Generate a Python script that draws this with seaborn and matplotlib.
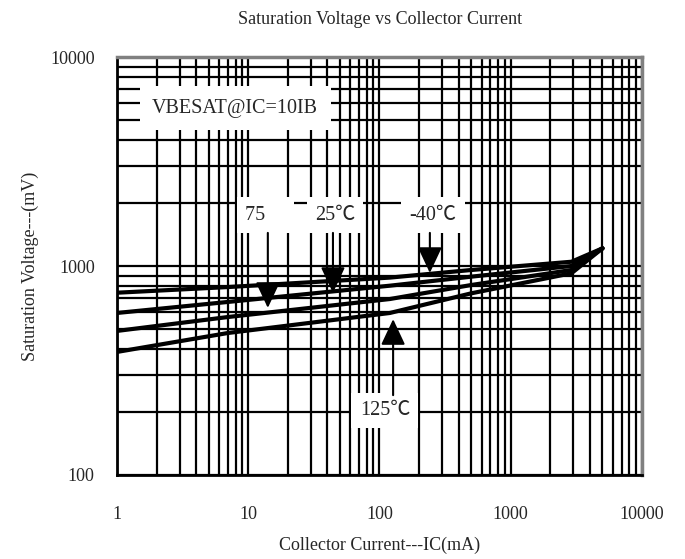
import numpy as np
import pandas as pd
import matplotlib
matplotlib.use("Agg")
import matplotlib.pyplot as plt
import seaborn as sns
from matplotlib.ticker import LogLocator, NullFormatter, FixedLocator, FixedFormatter

# ---- data ----
current_ma = [1, 7, 120, 500, 2900, 5000]
v_m40 = [745, 793, 880, 957, 1048, 1215]
v_25 = [596, 673, 805, 889, 1000, 1215]
v_75 = [489, 570, 695, 811, 957, 1215]
v_125 = [388, 478, 596, 740, 923, 1215]
series_names = ["-40℃", "25℃", "75℃", "125℃"]

x_ticks = [1, 10, 100, 1000, 10000]
x_ticklabels = ["1", "10", "100", "1000", "10000"]
y_ticks = [100, 1000, 10000]
y_ticklabels = ["100", "1000", "10000"]

title = "Saturation Voltage vs Collector Current"
xlabel = "Collector Current---IC(mA)"
ylabel = "Saturation Voltage---(mV)"
cond_text = "VBESAT@IC=10IB"

rows = []
for name, vals in zip(series_names, [v_m40, v_25, v_75, v_125]):
    for x, v in zip(current_ma, vals):
        rows.append({"IC": x, "V": v, "T": name})
df = pd.DataFrame(rows)

sns.set_style("white")
FAM = ["Liberation Serif", "Noto Sans CJK SC", "DejaVu Sans"]
plt.rcParams["font.family"] = FAM

fig = plt.figure(figsize=(6.85, 5.59), dpi=100)
ax = fig.add_axes([0.1708, 0.1503, 0.7664, 0.7477])
ax.set_xscale("log")
ax.set_yscale("log")
ax.set_xlim(1, 10000)
ax.set_ylim(100, 10000)

# grid
ax.xaxis.set_minor_locator(LogLocator(base=10, subs=np.arange(2, 10)))
ax.yaxis.set_minor_locator(LogLocator(base=10, subs=np.arange(2, 10)))
ax.xaxis.set_minor_formatter(NullFormatter())
ax.yaxis.set_minor_formatter(NullFormatter())
ax.grid(True, which="both", color="black", linewidth=1.6)
ax.set_axisbelow(True)

sns.lineplot(data=df, x="IC", y="V", hue="T", palette=["black"] * 4,
             linewidth=3, legend=False, ax=ax, zorder=3)

ax.xaxis.set_major_locator(FixedLocator(x_ticks))
ax.xaxis.set_major_formatter(FixedFormatter(x_ticklabels))
ax.yaxis.set_major_locator(FixedLocator(y_ticks))
ax.yaxis.set_major_formatter(FixedFormatter(y_ticklabels))
ax.tick_params(axis="both", which="both", length=0, labelsize=13)
ax.tick_params(axis="x", pad=22)
ax.tick_params(axis="y", pad=16)

for s in ["left", "bottom"]:
    ax.spines[s].set_color("black")
    ax.spines[s].set_linewidth(2)
for s in ["top", "right"]:
    ax.spines[s].set_color("#808080")
    ax.spines[s].set_linewidth(2.5)

ax.set_xlabel(xlabel, fontsize=13, labelpad=10)
ax.set_ylabel(ylabel, fontsize=13, labelpad=8)
fig.text(0.555, 0.966, title, ha="center", va="center", fontsize=13)

FS = 14.5
box = dict(facecolor="white", edgecolor="none", pad=6)
ax.text(1.85, 5700, cond_text, fontsize=FS, ha="left", va="center",
        bbox=dict(facecolor="white", edgecolor="none", pad=9), zorder=5)

arrow = dict(arrowstyle="-|>,head_length=1.6,head_width=0.75", color="black",
             lw=1.5, shrinkA=0, shrinkB=0)
# 75
ax.text(13.5, 1753, "75    ", fontsize=FS, ha="center", va="center", bbox=box, zorder=5)
ax.annotate("", xy=(14.1, 630), xytext=(14.1, 1440), arrowprops=arrow, zorder=6)
# 25
ax.text(45.8, 1753, "25℃", fontsize=FS, ha="center", va="center", bbox=box, zorder=5)
ax.annotate("", xy=(44.2, 743), xytext=(44.2, 1440), arrowprops=arrow, zorder=6)
# -40
ax.text(256, 1753, "-40℃", fontsize=FS, ha="center", va="center", bbox=box, zorder=5)
ax.annotate("", xy=(242, 926), xytext=(242, 1440), arrowprops=arrow, zorder=6)
# 125
ax.text(110, 204, "125℃", fontsize=FS, ha="center", va="center", bbox=box, zorder=5)
ax.annotate("", xy=(127, 557), xytext=(127, 241), arrowprops=arrow, zorder=6)

fig.savefig("out.png", dpi=100)
